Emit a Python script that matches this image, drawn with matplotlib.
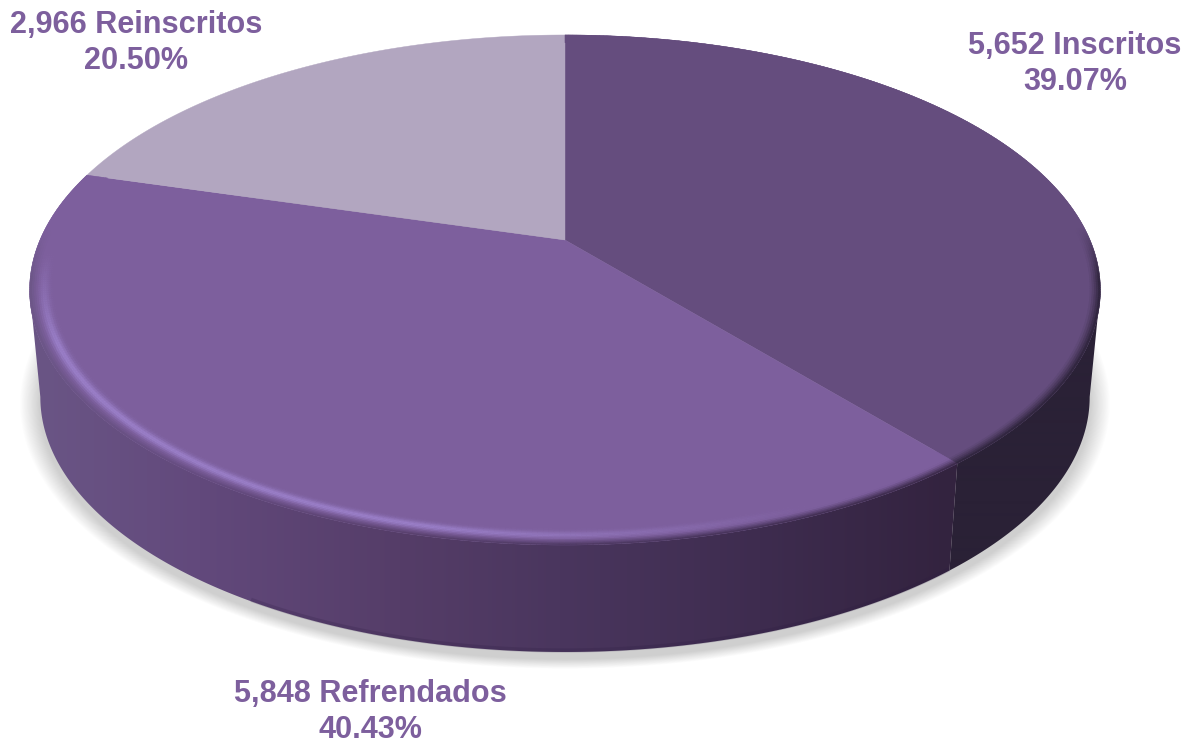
import numpy as np
import matplotlib
matplotlib.use('Agg')
import matplotlib.pyplot as plt
from matplotlib.collections import PolyCollection
from matplotlib.colors import to_rgb
from matplotlib.patches import Polygon

names = ['Inscritos', 'Refrendados', 'Reinscritos']
counts = [5652, 5848, 2966]
percents = [39.07, 40.43, 20.50]

face_colors = ['#654d7e', '#7d5f9d', '#b2a6c0']
text_color = '#7d5f9d'

# pie geometry in pixels, the tilt makes the front look bigger than the back
CX, CY = 565, 240
A, B, K = 525, 245.2, 0.196
DEPTH = 107
BOTTOM_SCALE = 0.98


def project(theta, r=1.0):
    u = r * np.sin(theta)
    v = -r * np.cos(theta)
    w = 1 - K * v
    return CX + A * u / w, CY + B * v / w


def project_bottom(theta):
    x, y = project(theta)
    return CX + (x - CX) * BOTTOM_SCALE, y + DEPTH


def mix(c1, c2, t):
    c1, c2 = np.array(to_rgb(c1)), np.array(to_rgb(c2))
    return tuple(c1 + (c2 - c1) * t)


def wall_color(slice_idx, x):
    if slice_idx == 0:
        return to_rgb('#2a2136')
    xs = [40, 200, 400, 560, 760, 950]
    cs = ['#6a5585', '#62497c', '#553d68', '#4a365e', '#3e2c4f', '#33233f']
    rgb = np.array([to_rgb(c) for c in cs])
    return tuple(np.interp(x, xs, rgb[:, i]) for i in range(3))


fig = plt.figure(figsize=(11.94, 7.44), dpi=100)
ax = fig.add_axes([0, 0, 1, 1])
ax.axis('off')

# angles of the slices, clockwise from the top
fractions = np.array(counts) / sum(counts)
edges = np.concatenate([[0], np.cumsum(fractions)]) * 2 * np.pi

# soft shadow under the pie
full = np.linspace(0, 2 * np.pi, 361)
sx, sy = project_bottom(full)
n_shadow = 24
for i in range(n_shadow):
    grow = 1.0 + 0.0016 * (n_shadow - i)
    ax.fill(CX + (sx - CX) * grow, 400 + (sy - 400) * grow + 7, color='#707070',
            alpha=0.012, lw=0, zorder=1)

# side wall, horizontal gradient clipped to the visible part of each slice
# the silhouette of the tilted pie is at cos(theta) = -K
right_end = np.arccos(-K)
left_end = 2 * np.pi - right_end
columns = np.arange(1194)
for i in range(2):
    thetas = np.linspace(max(edges[i], right_end), min(edges[i + 1], left_end), 400)
    tx, ty = project(thetas)
    bx, by = project_bottom(thetas)
    poly = Polygon(np.column_stack([np.r_[tx, bx[::-1]], np.r_[ty, by[::-1]]]),
                   closed=True, transform=ax.transData, fc='none', ec='none')
    ax.add_patch(poly)
    grad = np.array([[wall_color(i, c) for c in columns]])
    img = ax.imshow(grad, extent=(0, 1194, 744, 0), aspect='auto', zorder=2,
                    interpolation='bilinear')
    img.set_clip_path(poly)
    # slightly darker lip along the bottom
    if i == 1:
        keep = bx > 250
        ax.plot(bx[keep], by[keep] - 1.5, color='#2a1a40', lw=3, alpha=0.2, zorder=2.5,
                solid_capstyle='butt')

# top face of each slice
for i in range(3):
    thetas = np.linspace(edges[i], edges[i + 1], 300)
    x, y = project(thetas)
    ax.fill(np.r_[CX, x], np.r_[CY, y], color=face_colors[i], lw=0.3, zorder=3)

# bevel along the front edge
radii = np.linspace(0.955, 1.0, 13)
rim, rim_colors = [], []
for i in range(2):
    thetas = np.linspace(edges[i], edges[i + 1], int(fractions[i] * 720) + 2)
    for t0, t1 in zip(thetas[:-1], thetas[1:]):
        tm = (t0 + t1) / 2
        xm, ym = project(tm)
        v = -np.cos(tm)
        front = np.clip((v - 0.05) / 0.35, 0, 1)
        edge = np.clip((v + 0.05) / 0.2, 0, 1)
        wall = wall_color(i, xm)
        for r0, r1 in zip(radii[:-1], radii[1:]):
            s = ((r0 + r1) / 2 - 0.955) / 0.045
            xa, ya = project(t0, r0)
            xb, yb = project(t1, r0)
            xc, yc = project(t1, r1)
            xd, yd = project(t0, r1)
            if i == 1:
                glow = np.clip((820 - xm) / 400, 0, 1) * front
                col = mix(face_colors[1], '#9a7fc8', glow * np.exp(-((s - 0.42) / 0.2) ** 2))
                if s > 0.6:
                    col = mix(col, wall, edge * ((s - 0.6) / 0.4) ** 1.3)
            else:
                col = mix(face_colors[0], wall, edge * np.clip((s - 0.55) / 0.45, 0, 1) ** 1.3)
            rim.append([(xa, ya), (xb, yb), (xc, yc), (xd, yd)])
            rim_colors.append(col)
ax.add_collection(PolyCollection(rim, facecolors=rim_colors, edgecolors='face',
                                 linewidths=0.3, zorder=4))

# labels
label_pos = [(1075, 64), (370, 712), (136, 43)]
for i in range(3):
    ax.text(label_pos[i][0], label_pos[i][1],
            f'{counts[i]:,} {names[i]}\n{percents[i]:.2f}%',
            ha='center', va='center', color=text_color, fontsize=22.1,
            fontweight='bold', family='Liberation Sans', linespacing=1.22, zorder=5)

ax.set_xlim(0, 1194)
ax.set_ylim(744, 0)
fig.savefig('out.png', dpi=100)
